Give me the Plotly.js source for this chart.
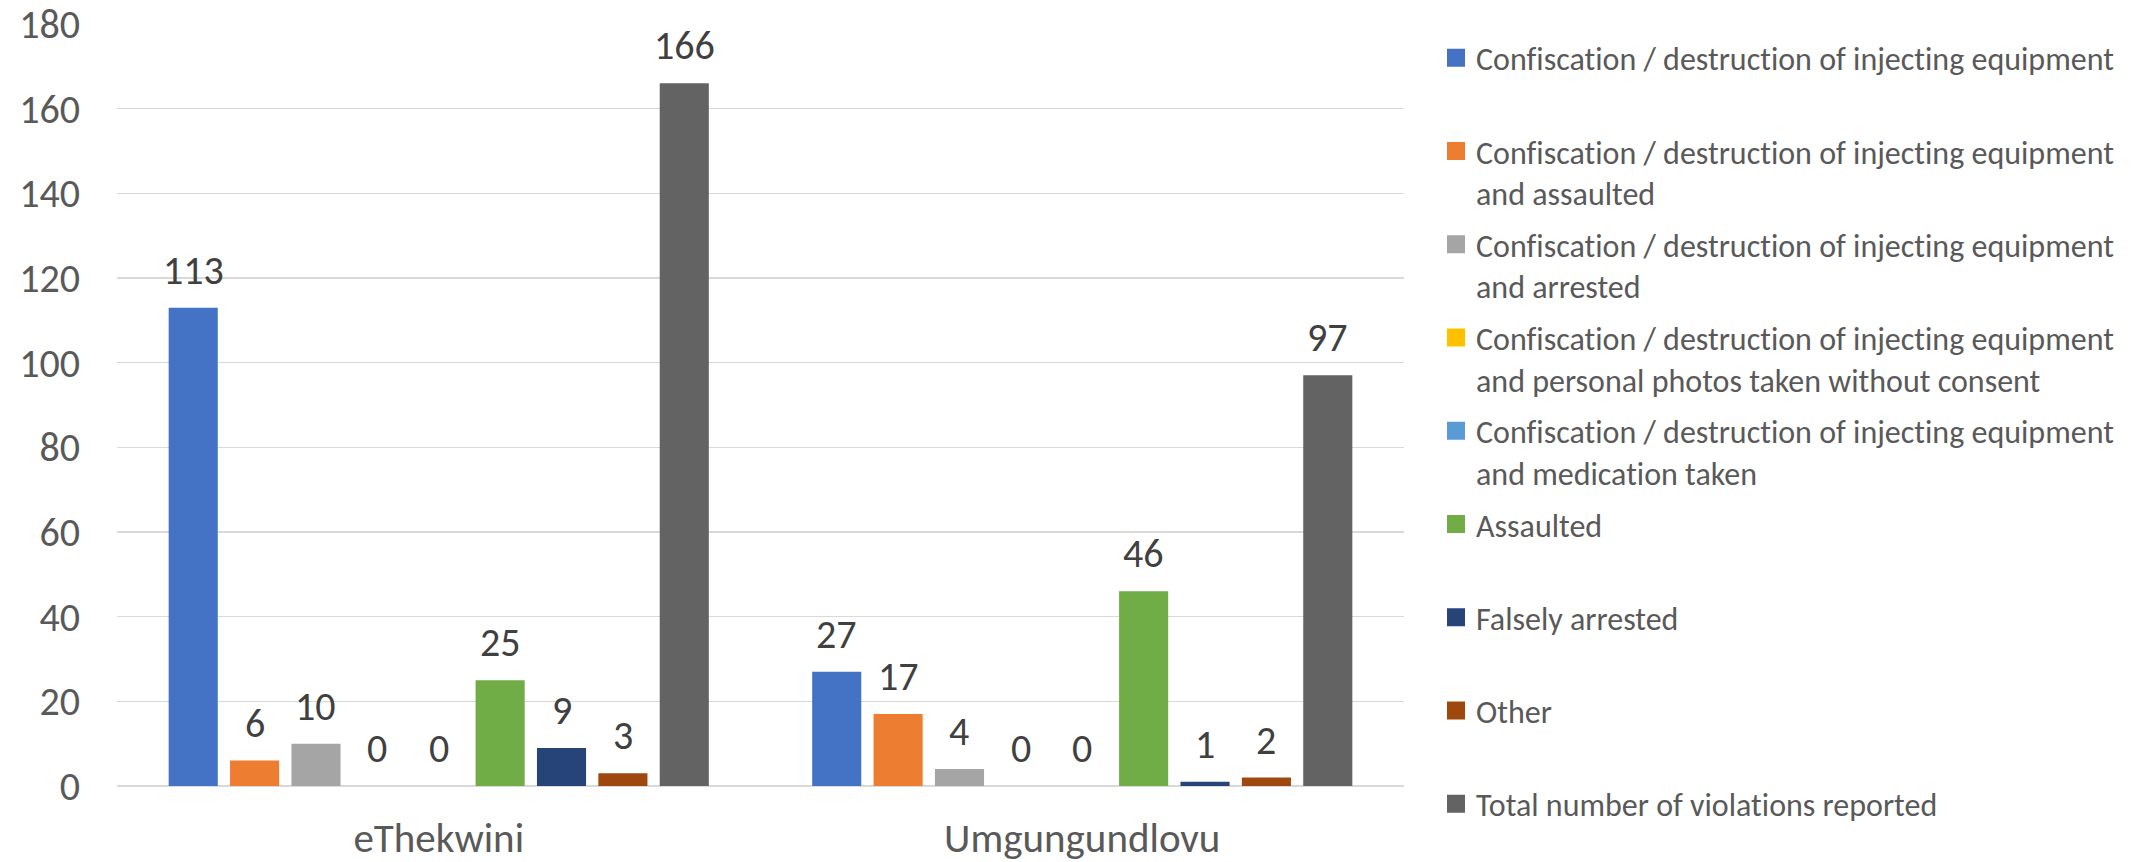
<!DOCTYPE html>
<html><head><meta charset="utf-8">
<script src="https://cdn.plot.ly/plotly-3.0.1.min.js"></script>
<style>html,body{margin:0;padding:0;background:#fff}#chart{width:2138px;height:862px}
text{font-variant-ligatures:none;font-feature-settings:"liga" 0,"clig" 0}</style>
</head><body><div id="chart"></div>
<script>
const categories = ['eThekwini', 'Umgungundlovu'];
const seriesNames = [
  'Confiscation / destruction of injecting equipment<br>&nbsp;',
  'Confiscation / destruction of injecting equipment<br>and assaulted',
  'Confiscation / destruction of injecting equipment<br>and arrested',
  'Confiscation / destruction of injecting equipment<br>and personal photos taken without consent',
  'Confiscation / destruction of injecting equipment<br>and medication taken',
  'Assaulted<br>&nbsp;',
  'Falsely arrested<br>&nbsp;',
  'Other<br>&nbsp;',
  'Total number of violations reported'
];
const confiscation = [113, 27];
const confiscationAssaulted = [6, 17];
const confiscationArrested = [10, 4];
const confiscationPhotos = [0, 0];
const confiscationMedication = [0, 0];
const assaulted = [25, 46];
const falselyArrested = [9, 1];
const other = [3, 2];
const totalViolations = [166, 97];
const yTickValues = [0, 20, 40, 60, 80, 100, 120, 140, 160, 180];

const seriesValues = [confiscation, confiscationAssaulted, confiscationArrested, confiscationPhotos,
  confiscationMedication, assaulted, falselyArrested, other, totalViolations];
const colors = ['#4472C4', '#ED7D31', '#A5A5A5', '#FFC000', '#5B9BD5', '#70AD47', '#264478', '#9E480E', '#636363'];

const FONT = 'Carlito, Calibri, Liberation Sans, sans-serif';
const W = 2138, H = 862;
const margin = {l: 117, r: 734, t: 24, b: 76, pad: 0, autoexpand: false};
const bargap = 0.1415;
const plotW = W - margin.l - margin.r;
const plotH = H - margin.t - margin.b;
const pitch = plotW / categories.length * (1 - bargap) / seriesValues.length;

const barTraces = seriesValues.map((vals, i) => ({
  type: 'bar', x: categories, y: vals, name: seriesNames[i],
  marker: {color: colors[i]}, legendgroup: 'g' + i, showlegend: false, hoverinfo: 'none'
}));
// legend-only entries (larger square swatches, as in the original)
const legendTraces = seriesValues.map((vals, i) => ({
  type: 'scatter', mode: 'markers', x: [null], y: [null], name: seriesNames[i],
  marker: {symbol: 'square', size: 16, color: colors[i], line: {width: 2, color: colors[i]}},
  legendgroup: 'g' + i, showlegend: true, hoverinfo: 'none'
}));

const annotations = [];
seriesValues.forEach((vals, i) => {
  vals.forEach((v, j) => {
    annotations.push({
      x: categories[j], y: v, xref: 'x', yref: 'y', text: String(v), showarrow: false,
      yanchor: 'bottom', xanchor: 'center', xshift: (i - (seriesValues.length - 1) / 2) * pitch, yshift: 11,
      font: {family: FONT, size: 40, color: '#404040'}
    });
  });
});

const layout = {
  width: W, height: H, margin: margin,
  paper_bgcolor: '#fff', plot_bgcolor: '#fff',
  barmode: 'group', bargap: bargap, bargroupgap: 0.2,
  font: {family: FONT, color: '#595959'},
  xaxis: {type: 'category', categoryorder: 'array', categoryarray: categories,
    tickfont: {family: FONT, size: 41, color: '#595959'}, ticks: '',
    showline: false, showgrid: false, ticklabelstandoff: 24},
  yaxis: {range: [0, 180], tickvals: yTickValues, ticktext: yTickValues.map(String),
    tickfont: {family: FONT, size: 40, color: '#595959'}, ticks: '',
    showgrid: true, gridcolor: '#D9D9D9', gridwidth: 1.3, zeroline: true, zerolinecolor: '#D9D9D9', zerolinewidth: 1.3,
    showline: false, ticklabelstandoff: 36},
  showlegend: true,
  legend: {x: (1436 - margin.l) / plotW, xanchor: 'left', y: 1 - (30.5 - margin.t) / plotH, yanchor: 'top',
    traceorder: 'grouped', tracegroupgap: 7.05, valign: 'top', maxheight: 862,
    font: {family: FONT, size: 32, color: '#595959'}, bgcolor: 'rgba(0,0,0,0)', borderwidth: 0},
  annotations: annotations
};

Plotly.newPlot('chart', barTraces.concat(legendTraces), layout, {displayModeBar: false, staticPlot: true});
</script></body></html>
